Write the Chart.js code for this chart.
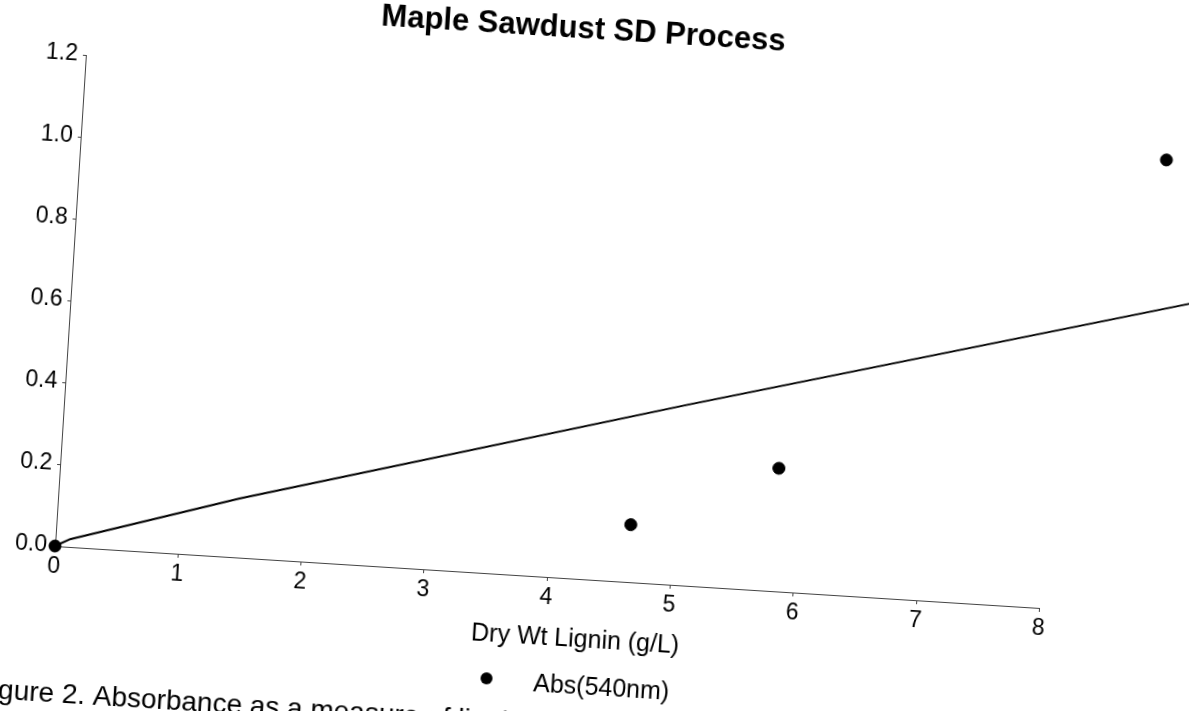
<!DOCTYPE html>
<html>
<head>
<meta charset="utf-8">
<script src="https://cdn.jsdelivr.net/npm/chart.js@4.4.1/dist/chart.umd.min.js"></script>
<style>
    html, body { margin: 0; padding: 0; background: #fff; overflow: hidden; width: 1189px; height: 711px; }
    #wrap { position: absolute; left: -60px; top: -60px; }
    /* scanned page is slightly tilted, rotate around the chart origin */
    #chart { display: block; transform: rotate(3.6deg); transform-origin: 115px 606px; }
</style>
</head>
<body>
<div id="wrap"><canvas id="chart" width="1309" height="831"></canvas></div>
<script>
// ============================================
// Maple Sawdust SD Process - data
// ============================================

// measured points: Abs(540nm) vs dry wt lignin
const absX = [0, 4.65, 5.82, 8.8];
const absY = [0, 0.14, 0.30, 1.11];

// trend line
const fitX = [0, 0.12, 1.47, 5.04, 9.39];
const fitY = [0, 0.019, 0.144, 0.44, 0.79];

const xTicks = [0, 1, 2, 3, 4, 5, 6, 7, 8];
const yTicks = ['0.0', '0.2', '0.4', '0.6', '0.8', '1.0', '1.2'];

const chartTitle = 'Maple Sawdust SD Process';
const xTitle = 'Dry Wt Lignin (g/L)';
const seriesName = 'Abs(540nm)';
const caption = 'Figure 2. Absorbance as a measure of lignin';

const FONT = '"Liberation Sans", Arial, sans-serif';

// x axis line only runs up to the last tick
const axisPlugin = {
    id: 'xAxisLine',
    beforeDatasetsDraw(chart) {
        const x = chart.scales.x;
        const ctx = chart.ctx;
        const y0 = chart.chartArea.bottom + 0.5;
        ctx.save();
        ctx.strokeStyle = '#444';
        ctx.lineWidth = 1;
        ctx.beginPath();
        ctx.moveTo(x.getPixelForValue(xTicks[0]), y0);
        ctx.lineTo(x.getPixelForValue(xTicks[xTicks.length - 1]), y0);
        ctx.stroke();
        ctx.restore();
    }
};

// texts outside the plot drawn by hand
const textPlugin = {
    id: 'pageText',
    afterDraw(chart) {
        const ctx = chart.ctx;
        ctx.save();
        ctx.fillStyle = '#000';

        // title
        ctx.font = 'bold 31px ' + FONT;
        ctx.textAlign = 'center';
        ctx.textBaseline = 'middle';
        ctx.fillText(chartTitle, 610, 57);

        // x axis title
        ctx.font = '25px ' + FONT;
        ctx.fillText(xTitle, 640, 667);

        // legend
        ctx.beginPath();
        ctx.arc(554, 711, 6, 0, Math.PI * 2);
        ctx.fill();
        ctx.textAlign = 'left';
        ctx.fillText(seriesName, 601, 714);

        // caption (cut by the page edge)
        ctx.font = '28px ' + FONT;
        ctx.textBaseline = 'alphabetic';
        ctx.fillText(caption, 44, 762);

        ctx.restore();
    }
};

function pairs(xs, ys) {
    return xs.map((x, i) => ({ x: x, y: ys[i] }));
}

const ctx = document.getElementById('chart').getContext('2d');

new Chart(ctx, {
    type: 'scatter',
    data: {
        datasets: [{
            label: 'fit',
            data: pairs(fitX, fitY),
            showLine: true,
            borderColor: '#000',
            borderWidth: 2,
            pointRadius: 0,
            tension: 0,
            clip: false
        }, {
            label: seriesName,
            data: pairs(absX, absY),
            showLine: false,
            backgroundColor: '#000',
            borderColor: '#000',
            pointRadius: 6,
            clip: false
        }]
    },
    options: {
        responsive: false,
        animation: false,
        layout: { padding: { left: 0, top: 114, right: 35, bottom: 185 } },
        plugins: {
            legend: { display: false },
            title: { display: false },
            tooltip: { enabled: false }
        },
        scales: {
            x: {
                type: 'linear',
                min: 0,
                max: 9.4,
                afterFit: (scale) => { scale.height = 40; },
                afterBuildTicks: (scale) => { scale.ticks = xTicks.map(v => ({ value: v })); },
                border: { display: false },
                grid: { drawOnChartArea: false, drawTicks: true, tickLength: 4, color: '#444' },
                ticks: {
                    color: '#000',
                    padding: 3,
                    maxRotation: 0,
                    font: { family: FONT, size: 23 },
                    callback: (v) => String(v)
                }
            },
            y: {
                min: 0,
                max: 1.2,
                afterFit: (scale) => { scale.width = 115; },
                afterBuildTicks: (scale) => { scale.ticks = yTicks.map(t => ({ value: parseFloat(t) })); },
                border: { display: true, color: '#444', width: 1 },
                grid: { drawOnChartArea: false, drawTicks: true, tickLength: 3, color: '#444' },
                ticks: {
                    color: '#000',
                    padding: 5,
                    font: { family: FONT, size: 23 },
                    callback: (v) => v.toFixed(1)
                }
            }
        }
    },
    plugins: [axisPlugin, textPlugin]
});
</script>
</body>
</html>
